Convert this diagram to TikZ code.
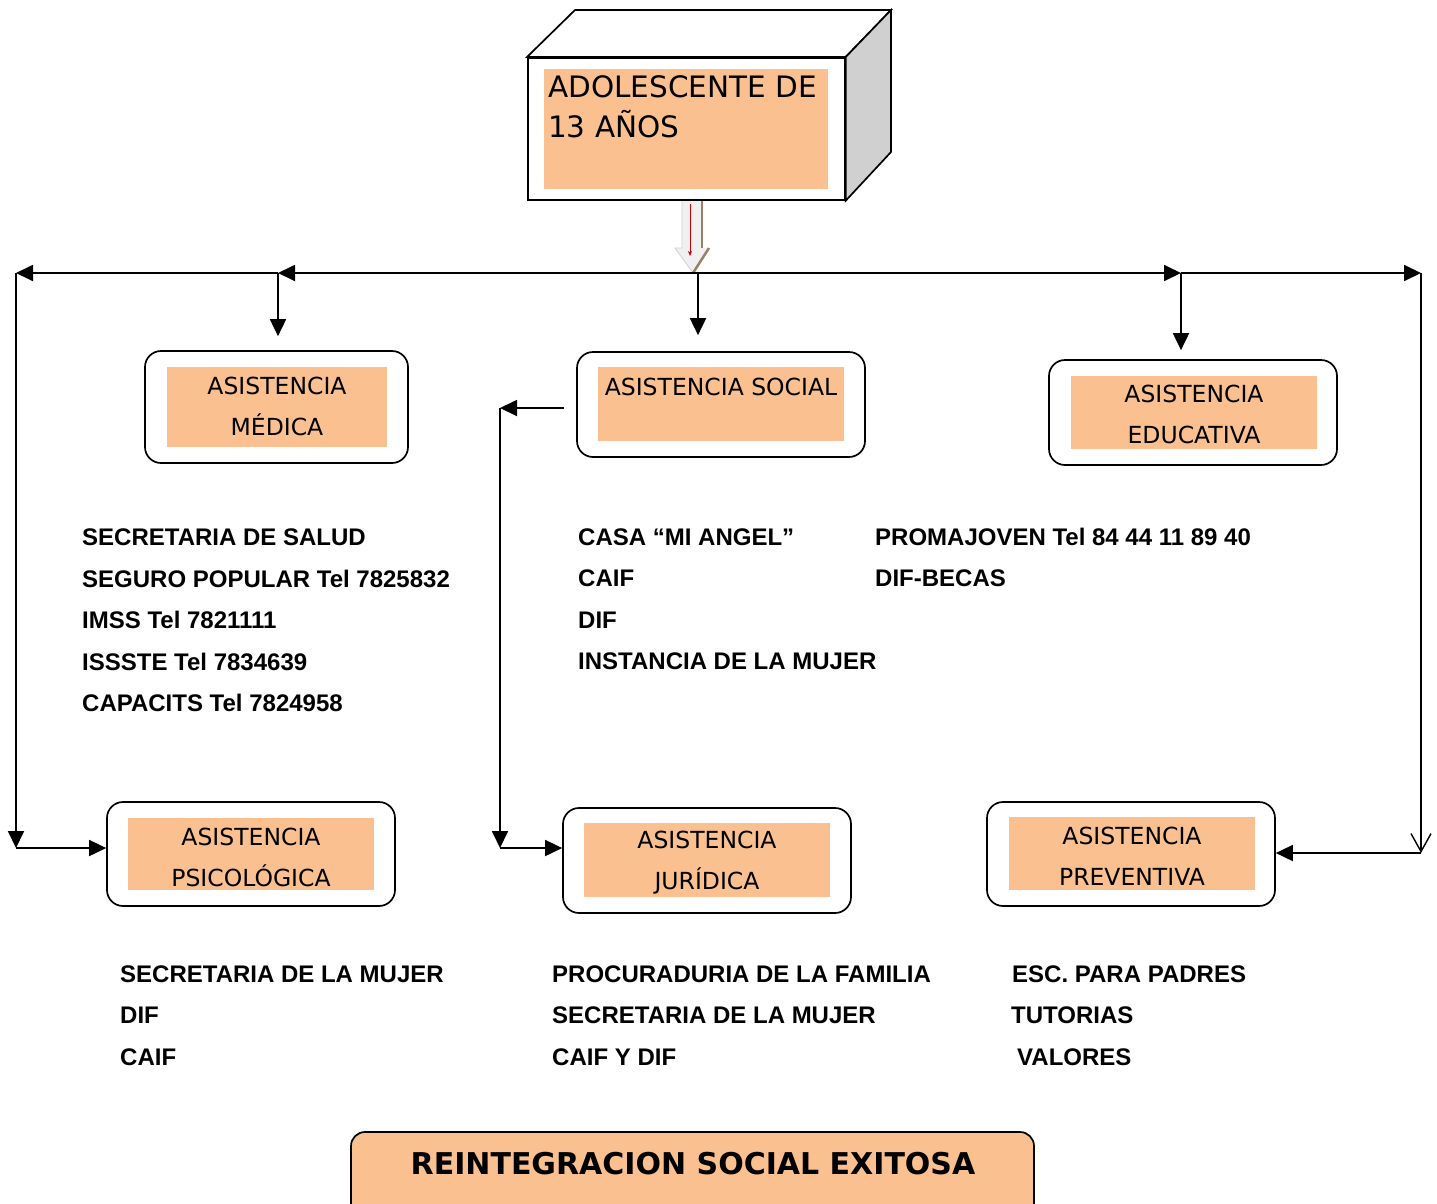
\documentclass[tikz,border=0pt]{standalone}
\usepackage{fontspec}
\setmainfont{DejaVu Sans}
\newfontfamily\listfont{Liberation Sans}
\usepackage{xcolor}
\usepackage{tikz}
\usetikzlibrary{arrows.meta, positioning, calc}

\definecolor{boxorange}{RGB}{250,192,144}
\definecolor{sidegray}{RGB}{208,208,208}

\tikzset{
  conn/.style={line width=1.8pt},
  tip/.style={conn, -{Triangle[length=17pt,width=16pt]}},
  opentip/.style={conn, -{Straight Barb[length=18pt,width=20pt,line width=1.4pt]}},
  outerbox/.style={draw, line width=1.7pt, rounded corners=16pt, fill=white},
  innerbox/.style={fill=boxorange, inner sep=0pt},
  boxtext/.style={inner sep=0pt, align=center, font=\fontsize{23.5}{41}\selectfont},
  listtext/.style={inner sep=0pt, anchor=west, font=\listfont\bfseries\fontsize{24}{30}\selectfont},
}

\begin{document}
\begin{tikzpicture}[x=1pt, y=-1pt]
  \useasboundingbox (0,0) rectangle (1437,1203);

  % Adolescente (3D box)
  \node[draw, line width=1.7pt, fill=white, minimum width=317pt, minimum height=142pt,
        inner sep=0pt, anchor=north west] (teen) at (527,57) {};
  \draw[line width=1.7pt, fill=white] (teen.north west) -- (575,10) -- (891,10) -- (teen.north east) -- cycle;
  \draw[line width=1.7pt, fill=sidegray] (teen.north east) -- (891,10) -- (891,152) -- (teen.south east) -- cycle;
  \node[innerbox, minimum width=284pt, minimum height=120pt, anchor=north west] (teenin) at (544,69) {};
  \node[inner sep=0pt, anchor=west, align=left, font=\fontsize{29.5}{40}\selectfont] (teentxt) at (548,107)
    {ADOLESCENTE DE\\13 AÑOS};

  % hollow arrow below
  \fill[gray!12] (682,201) -- (702,201) -- (702,248) -- (709,248) -- (693,273) -- (675,248) -- (682,248) -- cycle;
  \draw[gray!35, line width=0.8pt] (682,201) -- (682,248) -- (675,248) -- (693,273);
  \draw[brown!45!gray, line width=2pt] (702,201) -- (702,248);
  \draw[brown!45!gray, line width=2.5pt] (709,248) -- (693,273);
  \draw[red!80!black, line width=0.7pt, -{Stealth[length=5pt,width=4pt]}] (690,204) -- (690,256);

  % junctions
  \coordinate (hub) at (698,273);
  \coordinate (jL) at (278,273);
  \coordinate (jLL) at (16,273);
  \coordinate (jR) at (1181,273);
  \coordinate (jRR) at (1421,273);
  \coordinate (cL) at (16,848);
  \coordinate (sL) at (500,408);
  \coordinate (sB) at (500,848);
  \coordinate (cR) at (1421,853);

  % Asistencia medica
  \node[outerbox, minimum width=263pt, minimum height=112pt] (medica) at (276.5,407) {};
  \node[innerbox, minimum width=220pt, minimum height=80pt] (medicain) at (277,407) {};
  \node[boxtext] (medicatxt) at (277,406.5) {ASISTENCIA\\MÉDICA};

  % Asistencia social
  \node[outerbox, minimum width=288pt, minimum height=105pt] (social) at (721,404.5) {};
  \node[innerbox, minimum width=246pt, minimum height=74pt] (socialin) at (721,404) {};
  \node[boxtext] (socialtxt) at (721,387) {ASISTENCIA SOCIAL};

  % Asistencia educativa
  \node[outerbox, minimum width=288pt, minimum height=105pt] (educativa) at (1193,412.5) {};
  \node[innerbox, minimum width=246pt, minimum height=73pt] (educativain) at (1194,412.5) {};
  \node[boxtext] (educativatxt) at (1194,414.5) {ASISTENCIA\\EDUCATIVA};

  % Asistencia psicologica
  \node[outerbox, minimum width=288pt, minimum height=104pt] (psico) at (251,854) {};
  \node[innerbox, minimum width=246pt, minimum height=72pt] (psicoin) at (251,854) {};
  \node[boxtext] (psicotxt) at (251,857) {ASISTENCIA\\PSICOLÓGICA};

  % Asistencia juridica
  \node[outerbox, minimum width=288pt, minimum height=105pt] (juridica) at (707,860.5) {};
  \node[innerbox, minimum width=246pt, minimum height=74pt] (juridicain) at (707,860) {};
  \node[boxtext] (juridicatxt) at (707,863) {ASISTENCIA\\JURÍDICA};

  % Asistencia preventiva
  \node[outerbox, minimum width=288pt, minimum height=104pt] (preventiva) at (1131,854) {};
  \node[innerbox, minimum width=246pt, minimum height=73pt] (preventivain) at (1132,853.5) {};
  \node[boxtext] (preventivatxt) at (1132,856.5) {ASISTENCIA\\PREVENTIVA};

  % connectors
  \draw[tip] (hub) -- (jL);
  \draw[tip] (jL) -- (jLL);
  \draw[tip] (hub) -- (jR);
  \draw[tip] (jR) -- (jRR);
  \draw[tip, shorten >=14pt] (jL) -- (jL |- medica.north);
  \draw[tip, shorten >=16pt] (hub) -- (hub |- social.north);
  \draw[tip, shorten >=9pt] (jR) -- (jR |- educativa.north);
  \draw[tip] (jLL) -- (cL);
  \draw[tip] (cL) -- (cL -| psico.west);
  \draw[tip, shorten <=12pt] (social.west |- sL) -- (sL);
  \draw[tip] (sL) -- (sB);
  \draw[tip] (sB) -- (sB -| juridica.west);
  \draw[opentip] (jRR) -- (cR);
  \draw[tip] (cR) -- (cR -| preventiva.east);

  % lists
  \foreach \t [count=\i] in {SECRETARIA DE SALUD, SEGURO POPULAR Tel 7825832, IMSS Tel 7821111,
                             ISSSTE Tel 7834639, CAPACITS Tel 7824958}
    \node[listtext] (salud\i) at (82,537+41.5*\i-41.5) {\t};
  \foreach \t [count=\i] in {CASA “MI ANGEL”, CAIF, DIF, INSTANCIA DE LA MUJER}
    \node[listtext] (soc\i) at (578,537+41.5*\i-41.5) {\t};
  \foreach \t [count=\i] in {PROMAJOVEN Tel 84 44 11 89 40, DIF-BECAS}
    \node[listtext] (edu\i) at (875,537+41*\i-41) {\t};
  \foreach \t [count=\i] in {SECRETARIA DE LA MUJER, DIF, CAIF}
    \node[listtext] (psi\i) at (120,974+41.5*\i-41.5) {\t};
  \foreach \t [count=\i] in {PROCURADURIA DE LA FAMILIA, SECRETARIA DE LA MUJER, CAIF Y DIF}
    \node[listtext] (jur\i) at (552,974+41.5*\i-41.5) {\t};
  \node[listtext] (pre1) at (1012,974) {ESC. PARA PADRES};
  \node[listtext] (pre2) at (1011,1015) {TUTORIAS};
  \node[listtext] (pre3) at (1017,1057) {VALORES};

  % Reintegracion
  \draw[line width=1.7pt, fill=boxorange, rounded corners=14pt] (351,1132) rectangle (1034,1230);
  \node[inner sep=0pt, font=\bfseries\fontsize{30}{36}\selectfont] (meta) at (693,1164) {REINTEGRACION SOCIAL EXITOSA};
\end{tikzpicture}
\end{document}
